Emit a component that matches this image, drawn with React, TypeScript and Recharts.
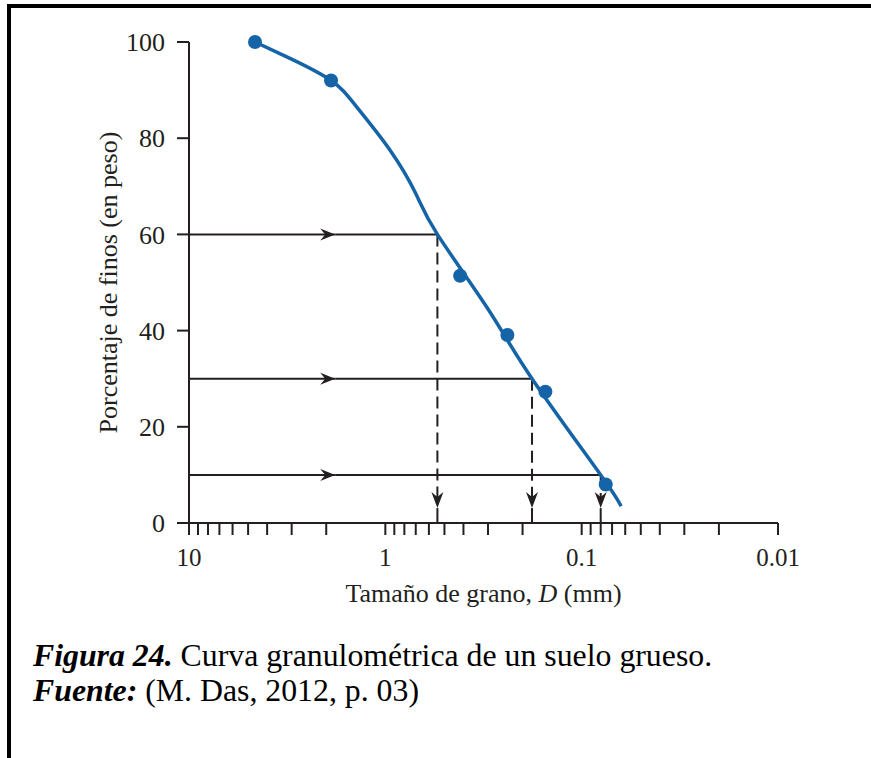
import React from "react";
import {
  ComposedChart,
  Line,
  Scatter,
  XAxis,
  YAxis,
  ReferenceLine,
} from "recharts";

// sieve results (mm, % finer)
const sampleSize = [4.61, 1.89, 0.416, 0.239, 0.153, 0.0754];
const samplePercent = [100, 92.0, 51.4, 39.1, 27.3, 8.0];

// fitted grading curve
const curveSize = [4.61, 3.06, 1.89, 1.4, 0.946, 0.7, 0.543, 0.3, 0.179, 0.08, 0.063];
const curvePercent = [100, 96.6, 92.0, 86.5, 77.5, 68.5, 60, 44.5, 30, 10, 3.5];

// D60, D30, D10 construction lines
const markPercent = [60, 30, 10];
const markSize = [0.543, 0.179, 0.08];
const arrowSize = 1.8; // where the right-pointing arrowheads sit
const arrowTipPercent = 3.1; // where the down-pointing arrowheads sit

const xTicks = [
  10, 9, 8, 7, 6, 5, 4, 3, 2,
  1, 0.9, 0.8, 0.7, 0.6, 0.5, 0.4, 0.3, 0.2,
  0.1, 0.09, 0.08, 0.07, 0.06, 0.05, 0.04, 0.03, 0.02,
  0.01,
];
const xLabels = [10, 1, 0.1, 0.01];
const yTicks = [0, 20, 40, 60, 80, 100];

const BLUE = "#1564a8";
const INK = "#231f20";
const SERIF = "Liberation Serif, Times New Roman, serif";

const samples = sampleSize.map((d, i) => ({ d, p: samplePercent[i] }));
const curve = curveSize.map((d, i) => ({ d, p: curvePercent[i] }));

const arrowRight = (props: any) => {
  const { x1, y1, x2, y2 } = props;
  return (
    <g>
      <line x1={x1} y1={y1} x2={x2} y2={y2} stroke={INK} strokeWidth={2} />
      <path
        d={`M${x2},${y2} L${x2 - 15},${y2 - 6} L${x2 - 10},${y2} L${x2 - 15},${y2 + 6} Z`}
        fill={INK}
      />
    </g>
  );
};

const plainLine = (props: any) => {
  const { x1, y1, x2, y2 } = props;
  return <line x1={x1} y1={y1} x2={x2} y2={y2} stroke={INK} strokeWidth={2} />;
};

const dashedDown = (props: any) => {
  const { x1, y1, x2, y2 } = props;
  const top = Math.min(y1, y2);
  const tip = Math.max(y1, y2);
  return (
    <g>
      <line x1={x1} y1={top} x2={x2} y2={tip - 10} stroke={INK} strokeWidth={2} strokeDasharray="12 6" />
      <path
        d={`M${x2},${tip} L${x2 - 6},${tip - 16} L${x2},${tip - 11} L${x2 + 6},${tip - 16} Z`}
        fill={INK}
      />
    </g>
  );
};

const XTick = (props: any) => {
  const { x, y, payload } = props;
  if (!xLabels.includes(payload.value)) return <g />;
  return (
    <text x={x} y={y} dy={31} textAnchor="middle" fontFamily={SERIF} fontSize={25} fill={INK}>
      {String(payload.value)}
    </text>
  );
};

export default function App() {
  return (
    <div style={{ position: "relative", width: 871, height: 758, background: "#fff", overflow: "hidden" }}>
      <style>{"body{margin:0}"}</style>
      <div
        style={{
          position: "absolute",
          left: 7,
          top: 4,
          right: -20,
          bottom: -20,
          borderTop: "4px solid #000",
          borderLeft: "4px solid #000",
        }}
      />
      <div style={{ position: "absolute", left: 0, top: 0 }}>
        <ComposedChart
          width={871}
          height={758}
          margin={{ top: 42, right: 93, left: 109, bottom: 175 }}
        >
          <XAxis
            dataKey="d"
            type="number"
            scale="log"
            domain={[0.01, 10]}
            reversed
            ticks={xTicks}
            interval={0}
            height={60}
            tick={<XTick />}
            tickSize={12}
            tickMargin={0}
            axisLine={{ stroke: INK, strokeWidth: 2 }}
            tickLine={{ stroke: INK, strokeWidth: 2 }}
            label={{
              content: (p: any) => {
                const vb = p.viewBox;
                return (
                  <text
                    x={vb.x + vb.width / 2}
                    y={vb.y + 79}
                    textAnchor="middle"
                    fontFamily={SERIF}
                    fontSize={26}
                    fill={INK}
                  >
                    Tamaño de grano, <tspan fontStyle="italic">D</tspan> (mm)
                  </text>
                );
              },
            }}
          />
          <YAxis
            type="number"
            domain={[0, 100]}
            ticks={yTicks}
            interval={0}
            width={80}
            tickSize={12}
            tickMargin={12}
            tick={{ fontFamily: SERIF, fontSize: 26, fill: INK }}
            axisLine={{ stroke: INK, strokeWidth: 2 }}
            tickLine={{ stroke: INK, strokeWidth: 2 }}
            label={{
              content: (p: any) => {
                const vb = p.viewBox;
                const cx = vb.x + vb.width - 81;
                const cy = vb.y + vb.height / 2;
                return (
                  <text
                    x={cx}
                    y={cy}
                    transform={`rotate(-90 ${cx} ${cy})`}
                    textAnchor="middle"
                    dominantBaseline="central"
                    fontFamily={SERIF}
                    fontSize={26}
                    fill={INK}
                  >
                    Porcentaje de finos (en peso)
                  </text>
                );
              },
            }}
          />

          {markPercent.map((p, i) => (
            <ReferenceLine
              key={`h1-${i}`}
              segment={[{ x: 10, y: p }, { x: arrowSize, y: p }]}
              shape={arrowRight}
            />
          ))}
          {markPercent.map((p, i) => (
            <ReferenceLine
              key={`h2-${i}`}
              segment={[{ x: arrowSize, y: p }, { x: markSize[i], y: p }]}
              shape={plainLine}
            />
          ))}
          {markPercent.map((p, i) => (
            <ReferenceLine
              key={`v1-${i}`}
              segment={[{ x: markSize[i], y: p }, { x: markSize[i], y: arrowTipPercent }]}
              shape={dashedDown}
            />
          ))}
          {markSize.map((d, i) => (
            <ReferenceLine
              key={`v2-${i}`}
              segment={[{ x: d, y: arrowTipPercent }, { x: d, y: 0 }]}
              shape={plainLine}
            />
          ))}

          <Line
            data={curve}
            dataKey="p"
            type="natural"
            stroke={BLUE}
            strokeWidth={3.5}
            dot={false}
            activeDot={false}
            isAnimationActive={false}
          />
          <Scatter
            data={samples}
            dataKey="p"
            fill={BLUE}
            shape={(p: any) => <circle cx={p.cx} cy={p.cy} r={7} fill={BLUE} />}
            isAnimationActive={false}
          />
        </ComposedChart>
      </div>
      <div
        style={{
          position: "absolute",
          left: 33,
          top: 638,
          fontFamily: SERIF,
          fontSize: 31.8,
          lineHeight: "35px",
          color: "#000",
          whiteSpace: "nowrap",
        }}
      >
        <div>
          <b>
            <i>Figura 24.</i>
          </b>{" "}
          Curva granulométrica de un suelo grueso.
        </div>
        <div>
          <b>
            <i>Fuente:</i>
          </b>{" "}
          (M. Das, 2012, p. 03)
        </div>
      </div>
    </div>
  );
}
